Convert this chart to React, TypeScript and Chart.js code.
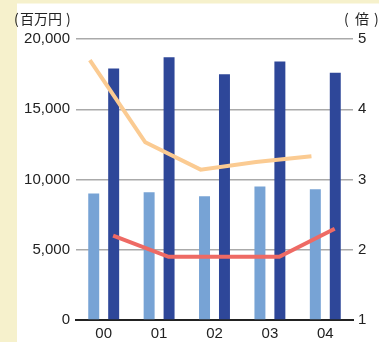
import React, { useEffect, useRef } from "react";
import { Chart, registerables } from "chart.js";

Chart.register(...registerables);

// Fiscal years
const categories = ["00", "01", "02", "03", "04"];
// Amounts, millions of yen (left axis)
const amountLight = [9000, 9100, 8800, 9500, 9300];
const amountDark = [17900, 18700, 17500, 18400, 17600];
// Multiples, times (right axis)
const ratioOrange = [4.7, 3.53, 3.14, 3.25, 3.33];
const ratioRed = [2.2, 1.9, 1.9, 1.9, 2.3];

// Left-axis and right-axis tick ranges
const leftMax = 20000;
const leftStep = 5000;
const rightMin = 1;
const rightMax = 5;

const NUM_FONT = "'Liberation Sans', Arial, sans-serif";
const CJK_FONT = "'Noto Sans CJK JP', 'Liberation Sans', sans-serif";

// Lines sit beside the year centre, next to their bars
const ORANGE_SHIFT = -0.25;
const RED_SHIFT = 0.17;

const backdrop = {
  id: "backdrop",
  beforeDraw(chart: any) {
    const { ctx, width, height } = chart;
    ctx.save();
    ctx.fillStyle = "#ffffff";
    ctx.fillRect(0, 0, width, height);
    ctx.fillStyle = "#f6f1cc";
    ctx.fillRect(0, 0, 17, height);
    ctx.fillRect(0, 0, width, 3.5);
    ctx.restore();
  },
};

// Unit captions above the two value axes
const unitLabels = {
  id: "unitLabels",
  afterDraw(chart: any) {
    const { ctx } = chart;
    ctx.save();
    ctx.fillStyle = "#222";
    ctx.font = `14px ${CJK_FONT}`;
    ctx.textBaseline = "middle";
    ctx.textAlign = "left";
    const y = 19;
    ctx.fillText("(", 14, y);
    ctx.fillText("百万円", 20, y);
    ctx.fillText(")", 66, y);
    ctx.fillText("(", 344, y);
    ctx.fillText("倍", 355, y);
    ctx.fillText(")", 374, y);
    ctx.restore();
  },
};

export default function App() {
  const ref = useRef<HTMLCanvasElement | null>(null);

  useEffect(() => {
    if (!ref.current) return;
    const chart = new Chart(ref.current, {
      type: "bar",
      data: {
        datasets: [
          {
            type: "bar",
            data: amountLight.map((v, i) => ({ x: i, y: v })),
            backgroundColor: "#77a3d5",
            yAxisID: "y",
            stack: "light",
            order: 2,
            categoryPercentage: 0.72,
            barPercentage: 0.55,
          },
          {
            type: "bar",
            data: amountDark.map((v, i) => ({ x: i, y: v })),
            backgroundColor: "#2e4799",
            yAxisID: "y",
            stack: "dark",
            order: 2,
            categoryPercentage: 0.72,
            barPercentage: 0.55,
          },
          {
            type: "line",
            data: ratioOrange.map((v, i) => ({ x: i + ORANGE_SHIFT, y: v })),
            yAxisID: "y2",
            stack: "light",
            order: 1,
            borderColor: "#fbcb92",
            borderWidth: 4,
            pointRadius: 0,
            tension: 0,
          } as any,
          {
            type: "line",
            data: ratioRed.map((v, i) => ({ x: i + RED_SHIFT, y: v })),
            yAxisID: "y2",
            stack: "dark",
            order: 1,
            borderColor: "#ee6a64",
            borderWidth: 4,
            pointRadius: 0,
            tension: 0,
          } as any,
        ],
      },
      options: {
        responsive: false,
        animation: false,
        devicePixelRatio: 1,
        layout: { padding: { top: 39, left: 0, right: 0, bottom: 0 } },
        plugins: {
          legend: { display: false },
          tooltip: { enabled: false },
        },
        scales: {
          x: {
            type: "linear",
            position: "bottom",
            offset: false,
            min: -0.5,
            max: categories.length - 0.5,
            grid: { display: false, drawTicks: false, offset: false },
            border: { display: true, color: "#222", width: 2 },
            afterBuildTicks(scale: any) {
              scale.ticks = categories.map((_, i) => ({ value: i }));
            },
            ticks: {
              color: "#222",
              padding: 5,
              autoSkip: false,
              maxRotation: 0,
              font: { family: NUM_FONT, size: 15 },
              callback: (v: any) => categories[Math.round(Number(v))] ?? "",
            },
            afterFit(scale: any) {
              scale.height = 22;
            },
          },
          y: {
            type: "linear",
            position: "left",
            stacked: false,
            min: 0,
            max: leftMax,
            ticks: {
              stepSize: leftStep,
              color: "#222",
              padding: 6,
              font: { family: NUM_FONT, size: 15 },
              callback: (v: any) => Number(v).toLocaleString("en-US"),
            },
            grid: { color: "#aaaaaa", lineWidth: 1.5, drawTicks: false },
            border: { display: false },
            afterFit(scale: any) {
              scale.width = 76;
            },
          },
          y2: {
            type: "linear",
            position: "right",
            stacked: false,
            min: rightMin,
            max: rightMax,
            ticks: {
              stepSize: 1,
              color: "#222",
              padding: 5,
              font: { family: NUM_FONT, size: 15 },
            },
            grid: { display: false, drawTicks: false },
            border: { display: false },
            afterFit(scale: any) {
              scale.width = 26;
            },
          },
        },
      },
      plugins: [backdrop, unitLabels],
    } as any);
    return () => chart.destroy();
  }, []);

  return (
    <div style={{ position: "fixed", left: 0, top: 0, width: 379, height: 342 }}>
      <canvas ref={ref} width={379} height={342} />
    </div>
  );
}
